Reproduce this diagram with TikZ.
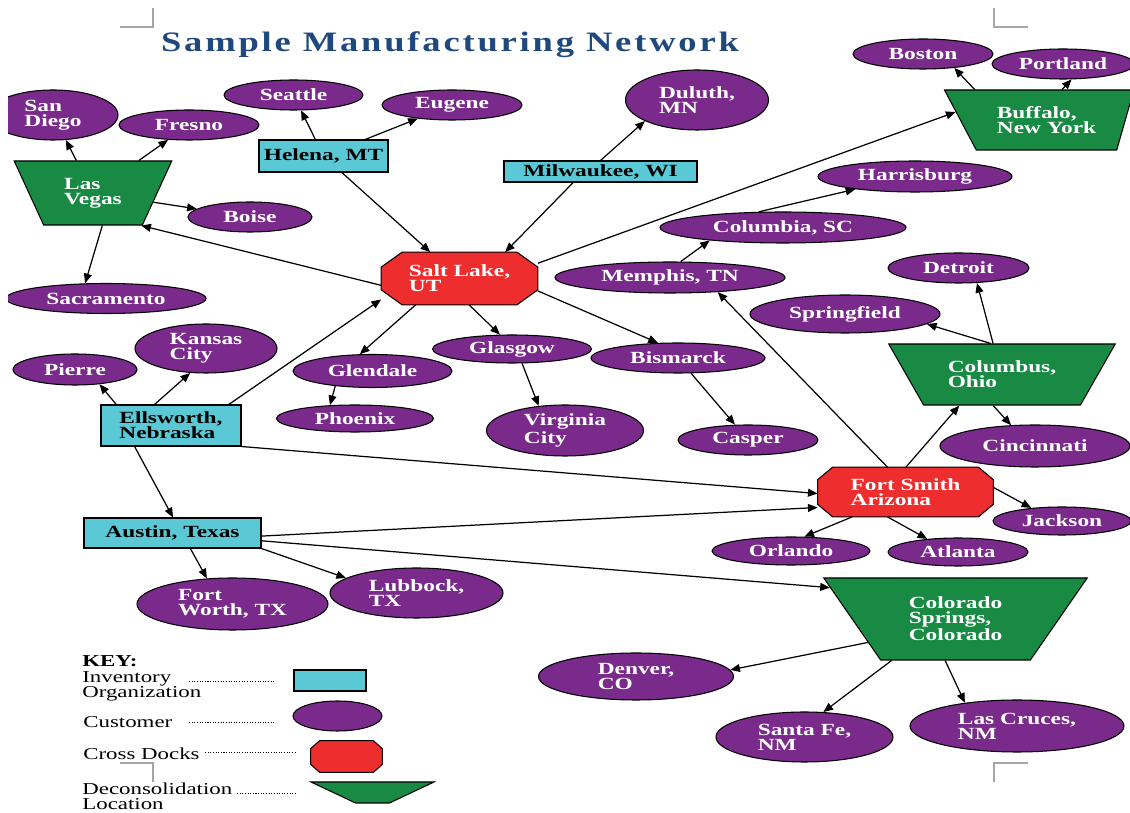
\documentclass[tikz,border=0pt]{standalone}
\usepackage{fontspec}
\setmainfont{Liberation Serif}[FakeStretch=1.37]
\newfontfamily\titlefont{Liberation Serif}[FakeStretch=1.3,LetterSpace=10]
\usetikzlibrary{shapes.geometric,arrows.meta,backgrounds}
\definecolor{custC}{RGB}{122,42,138}
\definecolor{deconC}{RGB}{24,138,68}
\definecolor{xdockC}{RGB}{238,46,46}
\definecolor{invC}{RGB}{91,200,214}
\definecolor{ttlC}{RGB}{31,73,125}
\definecolor{markC}{RGB}{165,165,165}
\tikzset{
  nodetext/.style={inner sep=0pt, align=left, font=\fontsize{9.7}{8.4}\selectfont\bfseries},
  nodebase/.style={nodetext, draw=black, line width=0.6pt},
  sz/.style 2 args={minimum width=#1*0.02cm, minimum height=#2*0.02cm},
  custnode/.style={nodebase, ellipse, fill=custC, text=white},
  invnode/.style={nodebase, rectangle, fill=invC, text=black},
  xdocknode/.style={nodetext, rectangle, text=white},
  xdockfill/.style={fill=xdockC, draw=black, line width=0.6pt},
  deconnode/.style={nodebase, trapezium, shape border rotate=180,
    trapezium stretches=true, fill=deconC, text=white},
  conn/.style={-{Triangle[length=5.5pt,width=4.5pt]}, line width=0.7pt},
  keytext/.style={inner sep=0pt, align=left, font=\fontsize{9.5}{8.5}\selectfont},
  keydot/.style={line width=0.5pt, dash pattern=on 0.6pt off 0.9pt},
  markline/.style={draw=markC, line width=0.8pt},
  ttlstyle/.style={inner sep=0pt, text=ttlC, font=\titlefont\bfseries\fontsize{16}{18}\selectfont}
}
% octagon drawn behind a named rectangular node: #1 name, #2 x chamfer, #3 y chamfer
\newcommand\octbehind[3]{%
  \begin{scope}[on background layer]
  \path[xdockfill] ([xshift=#2]#1.north west) -- ([xshift=-#2]#1.north east)
    -- ([yshift=-#3]#1.north east) -- ([yshift=#3]#1.south east)
    -- ([xshift=-#2]#1.south east) -- ([xshift=#2]#1.south west)
    -- ([yshift=#3]#1.south west) -- ([yshift=-#3]#1.north west) -- cycle;
  \end{scope}}
\begin{document}
\begin{tikzpicture}[x=0.02cm,y=-0.02cm]
\useasboundingbox (0,0) rectangle (1130,813);
\begin{scope}
\clip (8,0) rectangle (1130,813);

% corner marks
\draw[markline] (120,27) -- (153,27) -- (153,8);
\draw[markline] (994,8) -- (994,27) -- (1028,27);
\draw[markline] (1028,763) -- (994,763) -- (994,782);
\draw[markline] (120,763) -- (153,763) -- (153,782);

% title
\node[ttlstyle, anchor=base] (title) at (450,51.5) {Sample Manufacturing Network};

% deconsolidation locations
\node[deconnode, sz={158}{64}, trapezium angle=60] (lv) at (93,193) {Las\\Vegas};
\node[deconnode, sz={190}{60}, trapezium left angle=65.8, trapezium right angle=50.2] (buffalo) at (1046.5,120) {Buffalo,\\New York};
\node[deconnode, sz={227}{61}, trapezium angle=48] (columbus) at (1002,374.5) {Columbus,\\Ohio};
\node[deconnode, sz={266}{82}, trapezium angle=51.2] (cs) at (955.5,619) {Colorado\\Springs,\\Colorado};

% cross docks
\node[xdocknode, sz={156}{52}] (sl) at (459.5,278.5) {Salt Lake,\\UT};
\octbehind{sl}{0.42cm}{0.3cm}
\node[xdocknode, sz={175}{49}] (fs) at (905.5,492) {Fort Smith\\Arizona};
\octbehind{fs}{0.3cm}{0.25cm}

% inventory organizations
\node[invnode, sz={129}{32}] (helena) at (323.5,156) {Helena, MT};
\node[invnode, sz={193}{21}] (milw) at (600.5,171.5) {Milwaukee, WI};
\node[invnode, sz={140}{41}] (ells) at (171,425.5) {Ellsworth,\\Nebraska};
\node[invnode, sz={177}{30}] (austin) at (172.5,533) {Austin, Texas};

% customers
\node[custnode, sz={130}{50}] (sd) at (53,115) {San\\Diego};
\node[custnode, sz={140}{30}] (fresno) at (189,125) {Fresno};
\node[custnode, sz={139}{30}] (seattle) at (293.5,95) {Seattle};
\node[custnode, sz={140}{30}] (eugene) at (452,105) {Eugene};
\node[custnode, sz={143}{60}] (duluth) at (697,100) {Duluth,\\MN};
\node[custnode, sz={140}{30}] (boston) at (923,54) {Boston};
\node[custnode, sz={142}{30}] (portland) at (1063,64) {Portland};
\node[custnode, sz={194}{31}] (harris) at (915,176.5) {Harrisburg};
\node[custnode, sz={246}{31}] (columbia) at (783,227.5) {Columbia, SC};
\node[custnode, sz={230}{31}] (memphis) at (670,277.5) {Memphis, TN};
\node[custnode, sz={141}{30}] (detroit) at (958.5,268) {Detroit};
\node[custnode, sz={190}{38}] (spring) at (845,314) {Springfield};
\node[custnode, sz={124}{30}] (boise) at (250,217) {Boise};
\node[custnode, sz={200}{30}] (sacra) at (106,298.5) {Sacramento};
\node[custnode, sz={124}{31}] (pierre) at (75,369.5) {Pierre};
\node[custnode, sz={142}{49}] (kc) at (206,348.5) {Kansas\\City};
\node[custnode, sz={159}{33}] (glendale) at (372.5,371) {Glendale};
\node[custnode, sz={157}{27}] (phoenix) at (355,418.5) {Phoenix};
\node[custnode, sz={159}{28}] (glasgow) at (512,349) {Glasgow};
\node[custnode, sz={157}{51}] (vc) at (565,430.5) {Virginia\\City};
\node[custnode, sz={174}{30}] (bismarck) at (678,358) {Bismarck};
\node[custnode, sz={140}{30}] (casper) at (748,440) {Casper};
\node[custnode, sz={190}{42}] (cinci) at (1035,446) {Cincinnati};
\node[custnode, sz={138}{28}] (jackson) at (1062,521) {Jackson};
\node[custnode, sz={158}{28}] (orlando) at (791,551) {Orlando};
\node[custnode, sz={140}{28}] (atlanta) at (958,552) {Atlanta};
\node[custnode, sz={191}{52}] (fw) at (232.5,604) {Fort\\Worth, TX};
\node[custnode, sz={173}{50}] (lubbock) at (416.5,593) {Lubbock,\\TX};
\node[custnode, sz={195}{47}] (denver) at (636,676.5) {Denver,\\CO};
\node[custnode, sz={177}{50}] (santafe) at (804.5,737) {Santa Fe,\\NM};
\node[custnode, sz={214}{52}] (lascruces) at (1017,726) {Las Cruces,\\NM};

% connectors
\draw[conn] (lv) -- (sd);
\draw[conn] (lv) -- (fresno);
\draw[conn] (lv) -- (boise);
\draw[conn] (lv.-74) -- (sacra.144);
\draw[conn] (sl.185) -- (lv.-34);
\draw[conn] (helena) -- (seattle);
\draw[conn] (helena) -- (eugene);
\draw[conn] (helena) -- (sl);
\draw[conn] (milw.north) -- (duluth.202);
\draw[conn] (milw.202) -- (sl.30);
\draw[conn] (sl.11) -- (buffalo.175);
\draw[conn] (sl.211) -- (glendale.127);
\draw[conn] (sl.-70) -- (glasgow.130);
\draw[conn] (sl.-9) -- (bismarck.143);
\draw[conn] (ells.20) -- (sl.195);
\draw[conn] (glendale.202) -- (phoenix.152);
\draw[conn] (glasgow.-55) -- (vc.137);
\draw[conn] (bismarck) -- (casper);
\draw[conn] (memphis.56) -- (columbia.190);
\draw[conn] (columbia.147) -- (harris.192);
\draw[conn] (columbus.106) -- (detroit.-39);
\draw[conn] (columbus.110) -- (spring.-7.5);
\draw[conn] (columbus.254) -- (cinci.139);
\draw[conn] (fs.126) -- (memphis.-17);
\draw[conn] (fs.89) -- (columbus.216);
\draw[conn] (fs.3) -- (jackson.157);
\draw[conn] (fs.205) -- (orlando.47);
\draw[conn] (fs.234) -- (atlanta.157);
\draw[conn] (ells.south east) -- (fs.181);
\draw[conn] (austin.-2.5) -- (fs.190);
\draw[conn] (austin.-5.5) -- (cs.166);
\draw[conn] (ells.159) -- (pierre.-31);
\draw[conn] (ells.128) -- (kc.237);
\draw[conn] (ells.210) -- (austin.88);
\draw[conn] (austin.-41) -- (fw.135);
\draw[conn] (austin.south east) -- (lubbock.168);
\draw[conn] (cs.195) -- (denver.4);
\draw[conn] (cs.213) -- (santafe.53);
\draw[conn] (cs.256) -- (lascruces.156);
\draw[conn] (buffalo.157) -- (boston.-24);
\draw[conn] (buffalo.63) -- (portland.-61);

% key
\node[keytext, font=\fontsize{9.5}{8.5}\selectfont\bfseries, anchor=base west] (keyhd) at (82,667) {KEY:};
\node[keytext, anchor=west] (kinvtxt) at (82,686) {Inventory\\Organization};
\node[keytext, anchor=base west] (kcusttxt) at (83,728) {Customer};
\node[keytext, anchor=base west] (kxdtxt) at (83,760) {Cross Docks};
\node[keytext, anchor=west] (kdectxt) at (82,796) {Deconsolidation\\Location};

\node[invnode, sz={72}{21}] (kinv) at (330,680.5) {};
\node[custnode, sz={89}{30}] (kcust) at (337.5,716) {};
\node[xdocknode, sz={71}{31}] (kxd) at (346.5,756.5) {};
\octbehind{kxd}{0.18cm}{0.16cm}
\node[deconnode, inner sep=2pt, sz={123}{21}, trapezium angle=37.4] (kdec) at (372.5,792.5) {};

\coordinate (d1a) at (189,681); \coordinate (d1b) at (275,681);
\coordinate (d2a) at (189,722); \coordinate (d2b) at (275,722);
\coordinate (d3a) at (205,752); \coordinate (d3b) at (296,752);
\coordinate (d4a) at (237,793); \coordinate (d4b) at (296,793);
\draw[keydot] (d1a) -- (d1b);
\draw[keydot] (d2a) -- (d2b);
\draw[keydot] (d3a) -- (d3b);
\draw[keydot] (d4a) -- (d4b);
\end{scope}
\end{tikzpicture}
\end{document}
